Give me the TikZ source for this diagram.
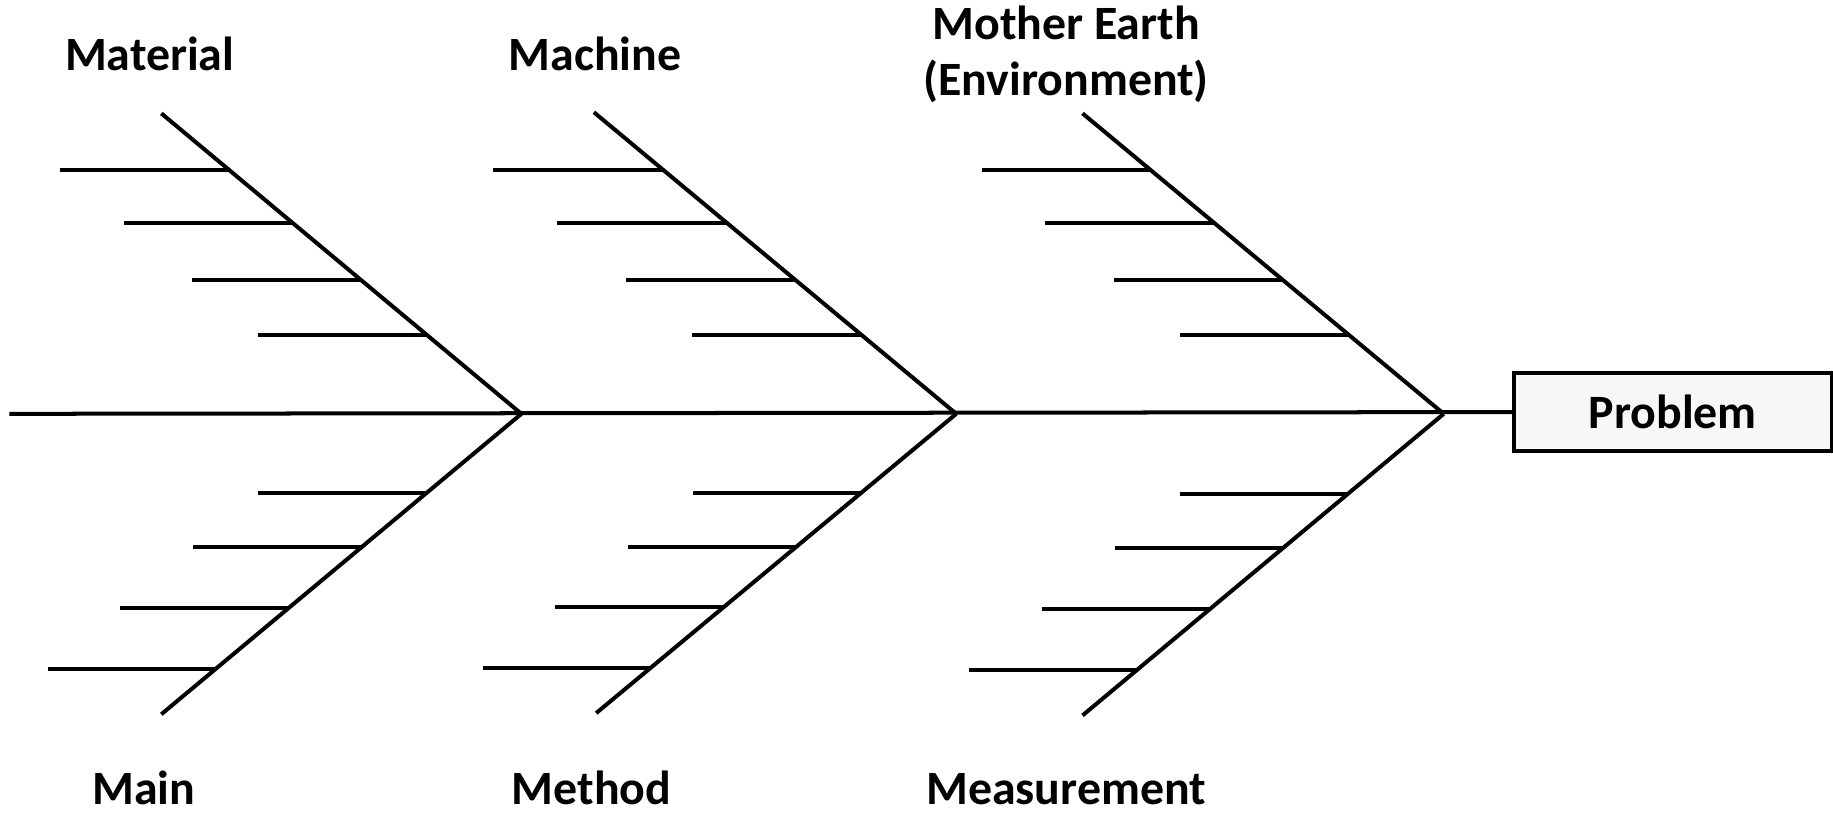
\documentclass[tikz,border=0pt]{standalone}
\usepackage{fontspec}
\setmainfont{Carlito}
\usetikzlibrary{calc}
\begin{document}
\begin{tikzpicture}[x=0.02cm,y=-0.02cm,
  bone/.style={line width=1.95pt},
  lab/.style={font=\fontsize{23.3}{28}\selectfont\bfseries, inner sep=0pt, anchor=base}]
\useasboundingbox (0,0) rectangle (1568,695.3);
% problem box
\node[draw, line width=1.95pt, fill=gray!6, minimum width=5.44cm, minimum height=1.34cm,
  inner sep=0pt, font=\fontsize{23.3}{28}\selectfont\bfseries] (prob) at (1431,352.5) {Problem};
% spine
\coordinate (tail) at (8,354);
\coordinate (j1) at (446,354);
\coordinate (j2) at (818,354);
\coordinate (j3) at (1235,354);
\draw[bone] (tail) -- (prob.west);
% bones
\coordinate (t1) at (138,97);  \coordinate (b1) at (138,611);
\coordinate (t2) at (508,96);  \coordinate (b2) at (510,610);
\coordinate (t3) at (926,97);  \coordinate (b3) at (926,612);
\foreach \i in {1,2,3}{
  \draw[bone] (t\i) -- (j\i);
  \draw[bone] (b\i) -- (j\i);
  \foreach \f [count=\k] in {0.19,0.366,0.556,0.739}{
    \coordinate (u\i-\k) at ($(t\i)!\f!(j\i)$);
    \draw[bone] (u\i-\k) -- ++(-145,0);
  }
  \foreach \f [count=\k] in {0.152,0.354,0.556,0.735}{
    \coordinate (l\i-\k) at ($(b\i)!\f!(j\i)$);
    \draw[bone] (l\i-\k) -- ++(-144,0);
  }
}
% labels
\node[lab] (material) at (128,60) {Material};
\node[lab] (machine) at (509,60) {Machine};
\node[lab] (earth1) at (912,34) {Mother Earth};
\node[lab] (earth2) at (912,82) {(Environment)};
\node[lab] (main) at (123,688) {Main};
\node[lab] (method) at (506,688) {Method};
\node[lab] (measure) at (912,688) {Measurement};
\end{tikzpicture}
\end{document}
